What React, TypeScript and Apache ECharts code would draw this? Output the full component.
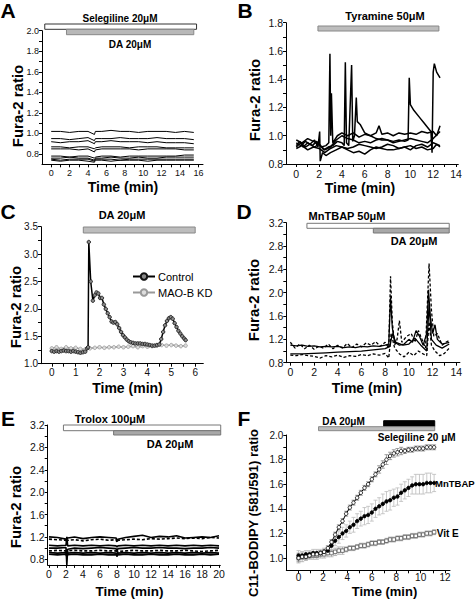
import React, { useEffect, useRef } from "react";
import * as echarts from "echarts";

const FONT = '"Liberation Sans", Arial, Helvetica, sans-serif';

// ---------- Panel A ----------
const timeA = [0, 1, 2, 3, 4, 4.7, 4.8, 5.5, 6.5, 7.5, 8.5, 9.5, 10.5, 11.5, 12.5, 13.5, 14.5, 15.5];
const tracesA = [
  [1.02, 1.02, 1.01, 1.02, 1.02, 0.99, 1.02, 1.02, 1.03, 1.02, 1.02, 1.01, 1.02, 1.02, 1.02, 1.01, 1.02, 1.01],
  [0.95, 0.95, 0.94, 0.95, 0.96, 0.93, 0.95, 0.95, 0.95, 0.96, 0.95, 0.95, 0.95, 0.96, 0.95, 0.95, 0.95, 0.94],
  [0.92, 0.91, 0.92, 0.92, 0.93, 0.9, 0.92, 0.92, 0.93, 0.92, 0.92, 0.92, 0.91, 0.92, 0.91, 0.91, 0.91, 0.9],
  [0.87, 0.87, 0.86, 0.87, 0.87, 0.85, 0.86, 0.87, 0.87, 0.87, 0.86, 0.87, 0.87, 0.87, 0.86, 0.86, 0.86, 0.86],
  [0.85, 0.85, 0.85, 0.84, 0.85, 0.82, 0.84, 0.85, 0.85, 0.85, 0.85, 0.84, 0.85, 0.85, 0.85, 0.85, 0.84, 0.84],
  [0.78, 0.78, 0.77, 0.78, 0.78, 0.76, 0.77, 0.78, 0.78, 0.77, 0.78, 0.78, 0.78, 0.78, 0.78, 0.78, 0.79, 0.79],
  [0.76, 0.76, 0.77, 0.76, 0.76, 0.74, 0.76, 0.76, 0.77, 0.76, 0.76, 0.77, 0.76, 0.76, 0.77, 0.77, 0.77, 0.77],
  [0.75, 0.74, 0.75, 0.75, 0.75, 0.73, 0.75, 0.75, 0.75, 0.74, 0.75, 0.75, 0.75, 0.75, 0.75, 0.75, 0.75, 0.75],
  [0.74, 0.73, 0.74, 0.74, 0.73, 0.72, 0.74, 0.74, 0.73, 0.74, 0.74, 0.74, 0.73, 0.74, 0.74, 0.74, 0.74, 0.74],
];
const barsA = [[-0.7, 15.8], [1.66, 15.5]];

// ---------- Panel B ----------
const tracesB = [
  [[0, 0.93], [0.3, 0.96], [0.6, 0.92], [1, 0.95], [1.4, 0.93], [1.8, 0.96], [2.2, 0.92], [2.6, 0.93], [2.85, 0.95], [2.95, 1.58], [3.02, 1.0], [3.08, 1.3], [3.2, 0.95], [3.6, 1.0], [4, 1.02], [4.5, 1.0], [5, 1.02], [5.5, 0.99], [6, 1.01], [6.5, 1.0], [7, 1.02], [7.25, 1.07], [7.5, 1.01], [8, 1.02], [8.5, 1.0], [9, 1.02], [9.5, 1.01], [10, 1.02], [10.5, 1.01], [11, 1.03], [11.5, 1.02], [12, 1.03], [12.3, 1.0], [12.6, 1.07]],
  [[0, 0.92], [0.4, 0.95], [0.8, 0.92], [1.2, 0.94], [1.6, 0.92], [2, 0.94], [2.4, 0.9], [2.8, 0.92], [3.2, 0.93], [3.6, 0.96], [4.0, 0.95], [4.2, 0.93], [4.3, 1.52], [4.4, 0.95], [4.6, 0.93], [4.85, 1.5], [4.95, 0.96], [5.1, 1.0], [5.26, 1.27], [5.35, 1.1], [5.6, 1.08], [6, 1.02], [6.5, 1.0], [7, 0.98], [7.5, 0.97], [8, 0.97], [8.5, 0.96], [9, 0.97], [9.5, 0.96], [9.8, 0.97], [9.9, 1.41], [10.0, 1.22], [10.3, 1.18], [10.8, 1.13], [11.2, 1.09], [11.6, 1.05], [11.8, 1.03], [11.9, 0.88], [12.0, 1.45], [12.1, 1.51], [12.3, 1.45], [12.6, 1.41]],
  [[0, 0.95], [0.4, 0.93], [0.8, 0.96], [1.2, 0.94], [1.6, 0.97], [1.9, 0.92], [2.05, 1.03], [2.1, 0.82], [2.3, 0.88], [2.6, 0.86], [3, 0.88], [3.5, 0.9], [4, 0.92], [4.5, 0.9], [5, 0.88], [5.5, 0.89], [6, 0.87], [6.5, 0.9], [7, 0.92], [7.5, 0.91], [8, 0.9], [8.5, 0.9], [9, 0.91], [9.5, 0.92], [10, 0.93], [10.5, 0.91], [11, 0.92], [11.5, 0.9], [12, 0.91], [12.3, 0.94], [12.6, 0.92]],
  [[0, 0.97], [0.5, 0.95], [1, 0.98], [1.5, 0.96], [2, 0.94], [2.5, 0.9], [3, 0.92], [3.5, 0.97], [4, 1.0], [4.5, 0.98], [5, 0.97], [5.5, 0.95], [6, 0.96], [6.5, 0.95], [7, 0.97], [7.5, 0.98], [8, 0.97], [8.5, 0.95], [9, 0.96], [9.5, 0.97], [10, 0.98], [10.5, 0.97], [11, 0.96], [11.5, 0.95], [12, 0.98], [12.6, 1.03]],
  [[0, 0.91], [0.5, 0.93], [1, 0.9], [1.5, 0.92], [2, 0.91], [2.5, 0.88], [3, 0.91], [3.5, 0.93], [4, 0.92], [4.5, 0.91], [5, 0.92], [5.5, 0.94], [6, 0.93], [6.5, 0.92], [7, 0.91], [7.5, 0.92], [8, 0.94], [8.5, 0.93], [9, 0.91], [9.5, 0.92], [10, 0.9], [10.5, 0.93], [11, 0.94], [11.5, 0.92], [12, 0.95], [12.6, 0.93]],
];
const barsB = [[1.9, 12.5]];

// ---------- Panel C ----------
const controlC = [[0, 1.23], [0.1, 1.22], [0.2, 1.23], [0.3, 1.22], [0.4, 1.23], [0.5, 1.24], [0.6, 1.23], [0.7, 1.23], [0.8, 1.22], [0.9, 1.23], [1.0, 1.22], [1.1, 1.21], [1.2, 1.2], [1.3, 1.21], [1.4, 1.22], [1.48, 1.28], [1.52, 1.3], [1.55, 3.22], [1.63, 2.5], [1.72, 2.15], [1.8, 2.25], [1.87, 2.3], [1.95, 2.28], [2.02, 2.2], [2.1, 2.2], [2.18, 2.08], [2.26, 2.0], [2.34, 1.92], [2.42, 1.85], [2.5, 1.77], [2.58, 1.75], [2.66, 1.76], [2.74, 1.72], [2.82, 1.65], [2.9, 1.58], [2.98, 1.52], [3.06, 1.48], [3.14, 1.44], [3.22, 1.41], [3.3, 1.39], [3.4, 1.38], [3.5, 1.37], [3.6, 1.37], [3.7, 1.37], [3.8, 1.36], [3.9, 1.36], [4.0, 1.35], [4.1, 1.34], [4.2, 1.33], [4.3, 1.33], [4.4, 1.34], [4.5, 1.35], [4.58, 1.45], [4.66, 1.58], [4.74, 1.7], [4.82, 1.78], [4.9, 1.83], [4.98, 1.85], [5.06, 1.82], [5.14, 1.74], [5.22, 1.67], [5.3, 1.6], [5.38, 1.55], [5.46, 1.5], [5.54, 1.46], [5.6, 1.43]];
const maobC = [[0, 1.28], [0.2, 1.3], [0.4, 1.27], [0.6, 1.3], [0.8, 1.28], [1.0, 1.29], [1.2, 1.27], [1.4, 1.26], [1.6, 1.28], [1.8, 1.29], [2.0, 1.3], [2.2, 1.29], [2.4, 1.3], [2.6, 1.3], [2.8, 1.31], [3.0, 1.3], [3.2, 1.31], [3.4, 1.32], [3.6, 1.3], [3.8, 1.32], [4.0, 1.31], [4.2, 1.32], [4.4, 1.33], [4.6, 1.34], [4.8, 1.33], [5.0, 1.34], [5.2, 1.33], [5.4, 1.32], [5.6, 1.33]];
const barsC = [[1.32, 6.0]];

// ---------- Panel D ----------
const tracesD = [
  [[0, 1.1], [0.5, 1.09], [1, 1.1], [1.5, 1.08], [2, 1.09], [2.5, 1.07], [3, 1.08], [3.5, 1.07], [4, 1.08], [4.5, 1.06], [5, 1.07], [5.5, 1.06], [6, 1.08], [6.5, 1.07], [7, 1.09], [7.5, 1.08], [8, 1.1], [8.3, 1.12], [8.45, 1.92], [8.6, 1.4], [8.8, 1.15], [9.2, 1.1], [9.6, 1.12], [10, 1.2], [10.3, 1.15], [10.6, 1.35], [10.9, 1.25], [11.2, 1.1], [11.5, 1.3], [11.65, 2.05], [11.8, 1.6], [12.0, 1.3], [12.2, 1.45], [12.4, 1.2], [12.8, 1.12], [13.4, 1.15]],
  [[0, 1.15], [0.4, 1.05], [0.8, 1.12], [1.2, 1.04], [1.6, 1.1], [2, 1.03], [2.4, 1.08], [2.8, 1.05], [3.2, 1.12], [3.6, 1.04], [4, 1.1], [4.4, 1.05], [4.8, 1.13], [5.2, 1.06], [5.6, 1.12], [6, 1.07], [6.4, 1.14], [6.8, 1.1], [7.2, 1.16], [7.6, 1.08], [8, 1.15], [8.3, 1.05], [8.45, 2.28], [8.6, 1.5], [8.8, 1.1], [9.0, 1.2], [9.2, 1.52], [9.4, 1.15], [9.8, 1.25], [10.2, 1.3], [10.5, 1.15], [10.8, 1.35], [11.1, 1.2], [11.4, 1.05], [11.7, 2.5], [11.9, 1.7], [12.1, 1.25], [12.4, 1.3], [12.8, 1.1], [13.1, 1.15], [13.4, 1.18]],
  [[0, 0.95], [1, 0.95], [2, 0.96], [3, 0.97], [4, 0.98], [5, 0.99], [6, 1.0], [7, 1.02], [8, 1.04], [8.4, 1.08], [8.6, 1.3], [8.9, 1.15], [9.5, 1.1], [10, 1.12], [10.5, 1.22], [11, 1.1], [11.5, 1.0], [11.7, 1.8], [11.9, 1.2], [12.3, 1.1], [12.8, 1.05], [13.4, 1.12]],
  [[0, 0.93], [0.5, 0.92], [1, 0.94], [1.5, 0.92], [2, 0.91], [2.5, 0.88], [3, 0.92], [3.5, 0.9], [4, 0.93], [4.5, 0.89], [5, 0.92], [5.5, 0.91], [6, 0.94], [6.5, 0.92], [7, 0.95], [7.5, 0.93], [8, 0.96], [8.3, 0.88], [8.5, 1.3], [8.8, 1.05], [9.2, 0.95], [9.6, 0.9], [10, 0.98], [10.4, 0.92], [10.8, 1.0], [11.2, 0.95], [11.5, 0.92], [11.7, 1.5], [11.9, 1.1], [12.2, 1.0], [12.6, 0.92], [13, 0.96], [13.4, 1.05]],
];
const dashedD = [false, true, false, true];
const barsD = [[1.4, 13.4], [7.0, 13.4]];

// ---------- Panel E ----------
const timeE = [0, 1, 2, 2.1, 2.2, 3, 4, 5, 6, 7, 7.9, 8, 8.1, 9, 10, 11, 12, 13, 14, 15, 16, 17, 18, 19, 20];
const tracesE = [
  [1.2, 1.19, 1.16, 1.17, 1.18, 1.2, 1.17, 1.19, 1.2, 1.19, 1.18, 1.12, 1.16, 1.19, 1.21, 1.23, 1.19, 1.21, 1.2, 1.22, 1.18, 1.19, 1.2, 1.19, 1.22],
  [1.16, 1.15, 1.14, 1.1, 1.14, 1.15, 1.13, 1.15, 1.16, 1.14, 1.15, 1.1, 1.14, 1.15, 1.16, 1.15, 1.17, 1.16, 1.17, 1.18, 1.17, 1.18, 1.17, 1.19, 1.18],
  [1.05, 1.04, 1.05, 1.2, 1.04, 1.05, 1.04, 1.05, 1.04, 1.05, 1.04, 1.02, 1.04, 1.05, 1.04, 1.05, 1.04, 1.05, 1.04, 1.05, 1.04, 1.05, 1.04, 1.05, 1.04],
  [1.0, 1.0, 1.01, 0.7, 0.98, 1.0, 0.99, 1.0, 1.01, 1.0, 0.99, 0.93, 0.99, 1.0, 1.01, 1.0, 1.0, 1.01, 1.0, 1.0, 0.99, 1.0, 1.0, 1.01, 1.0],
  [0.95, 0.96, 0.95, 0.85, 0.95, 0.96, 0.95, 0.95, 0.96, 0.95, 0.95, 0.85, 0.94, 0.95, 0.96, 0.95, 0.95, 0.96, 0.95, 0.95, 0.96, 0.95, 0.94, 0.95, 0.96],
  [0.92, 0.91, 0.92, 0.88, 0.91, 0.92, 0.91, 0.92, 0.91, 0.92, 0.91, 0.88, 0.91, 0.92, 0.91, 0.92, 0.91, 0.92, 0.91, 0.92, 0.91, 0.92, 0.91, 0.92, 0.91],
  [0.89, 0.88, 0.89, 0.85, 0.88, 0.89, 0.88, 0.88, 0.89, 0.88, 0.88, 0.86, 0.88, 0.89, 0.88, 0.88, 0.89, 0.88, 0.88, 0.89, 0.88, 0.88, 0.89, 0.88, 0.89],
];
const dashedE = [false, true, false, false, true, false, false];
const barsE = [[1.7, 20.2], [7.6, 20.2]];

// ---------- Panel F ----------
const timeF = [0, 0.3, 0.6, 0.9, 1.2, 1.5, 1.8, 2.1, 2.4, 2.7, 3.0, 3.3, 3.6, 3.9, 4.2, 4.5, 4.8, 5.1, 5.4, 5.7, 6.0, 6.3, 6.6, 6.9, 7.2, 7.5, 7.8, 8.1, 8.4, 8.7, 9.0, 9.3, 9.6, 9.9, 10.2, 10.5, 10.8, 11.1];
const selegilineF = [1.0, 1.01, 1.01, 1.02, 1.03, 1.03, 1.04, 1.05, 1.08, 1.13, 1.19, 1.25, 1.3, 1.36, 1.41, 1.45, 1.49, 1.53, 1.57, 1.6, 1.64, 1.68, 1.72, 1.76, 1.8, 1.83, 1.85, 1.86, 1.87, 1.87, 1.88, 1.88, 1.89, 1.89, 1.89, 1.9, 1.9, 1.9];
const selegilineSdF = [0.03, 0.02, 0.02, 0.02, 0.02, 0.02, 0.02, 0.02, 0.02, 0.02, 0.02, 0.02, 0.02, 0.02, 0.02, 0.02, 0.02, 0.02, 0.02, 0.02, 0.02, 0.02, 0.03, 0.03, 0.04, 0.03, 0.03, 0.03, 0.03, 0.02, 0.02, 0.02, 0.02, 0.02, 0.02, 0.02, 0.02, 0.02];
const mntbapF = [1.02, 1.02, 1.03, 1.03, 1.04, 1.04, 1.04, 1.05, 1.06, 1.1, 1.14, 1.17, 1.2, 1.22, 1.25, 1.27, 1.3, 1.32, 1.34, 1.35, 1.37, 1.4, 1.42, 1.44, 1.46, 1.47, 1.49, 1.5, 1.53, 1.55, 1.57, 1.59, 1.6, 1.6, 1.6, 1.61, 1.61, 1.61];
const mntbapSdF = [0.04, 0.03, 0.03, 0.03, 0.03, 0.03, 0.03, 0.03, 0.03, 0.04, 0.04, 0.05, 0.05, 0.05, 0.05, 0.06, 0.06, 0.06, 0.07, 0.07, 0.07, 0.07, 0.07, 0.08, 0.08, 0.08, 0.07, 0.07, 0.07, 0.07, 0.07, 0.07, 0.08, 0.08, 0.08, 0.08, 0.08, 0.07];
const vitEF = [1.0, 1.01, 1.01, 1.02, 1.02, 1.02, 1.03, 1.03, 1.04, 1.04, 1.05, 1.06, 1.06, 1.07, 1.08, 1.08, 1.09, 1.1, 1.1, 1.11, 1.12, 1.12, 1.13, 1.13, 1.14, 1.15, 1.15, 1.16, 1.16, 1.17, 1.17, 1.18, 1.18, 1.19, 1.19, 1.2, 1.2, 1.21];
const vitESdF = [0.04, 0.04, 0.03, 0.03, 0.03, 0.03, 0.03, 0.03, 0.03, 0.03, 0.03, 0.03, 0.03, 0.02, 0.02, 0.02, 0.02, 0.02, 0.02, 0.02, 0.02, 0.02, 0.02, 0.02, 0.02, 0.02, 0.02, 0.02, 0.02, 0.02, 0.02, 0.02, 0.02, 0.02, 0.02, 0.02, 0.02, 0.02];
const barsF = [[1.64, 11.15], [6.97, 11.15]];

// ---------- Axis ticks / labels ----------
const xTicksA = [0, 1, 2, 3, 4, 5, 6, 7, 8, 9, 10, 11, 12, 13, 14, 15, 16];
const xLabelsA = [0, 2, 4, 6, 8, 10, 12, 14, 16];
const yTicksA = [0.8, 0.9, 1.0, 1.1, 1.2, 1.3, 1.4, 1.5, 1.6, 1.7, 1.8, 1.9, 2.0];
const yLabelsA = [0.8, 1.0, 1.2, 1.4, 1.6, 1.8, 2.0];
const xTicksB = [0, 1, 2, 3, 4, 5, 6, 7, 8, 9, 10, 11, 12, 13, 14];
const xLabelsB = [0, 2, 4, 6, 8, 10, 12, 14];
const yTicksB = [0.8, 0.9, 1.0, 1.1, 1.2, 1.3, 1.4, 1.5, 1.6, 1.7, 1.8];
const yLabelsB = [0.8, 1.0, 1.2, 1.4, 1.6, 1.8];
const xTicksC = [0, 0.5, 1, 1.5, 2, 2.5, 3, 3.5, 4, 4.5, 5, 5.5, 6];
const xLabelsC = [0, 1, 2, 3, 4, 5, 6];
const yTicksC = [1.0, 1.25, 1.5, 1.75, 2.0, 2.25, 2.5, 2.75, 3.0, 3.25, 3.5];
const yLabelsC = [1.0, 1.5, 2.0, 2.5, 3.0, 3.5];
const xTicksD = [0, 1, 2, 3, 4, 5, 6, 7, 8, 9, 10, 11, 12, 13, 14];
const xLabelsD = [0, 2, 4, 6, 8, 10, 12, 14];
const yTicksD = [0.8, 1.0, 1.2, 1.4, 1.6, 1.8, 2.0, 2.2, 2.4, 2.6, 2.8, 3.0, 3.2];
const yLabelsD = [0.8, 1.2, 1.6, 2.0, 2.4, 2.8, 3.2];
const xTicksE = [0, 1, 2, 3, 4, 5, 6, 7, 8, 9, 10, 11, 12, 13, 14, 15, 16, 17, 18, 19, 20];
const xLabelsE = [0, 2, 4, 6, 8, 10, 12, 14, 16, 18, 20];
const yTicksE = [0.8, 1.0, 1.2, 1.4, 1.6, 1.8, 2.0, 2.2, 2.4, 2.6, 2.8, 3.0, 3.2];
const yLabelsE = [0.8, 1.2, 1.6, 2.0, 2.4, 2.8, 3.2];
const xTicksF = [0, 1, 2, 3, 4, 5, 6, 7, 8, 9, 10, 11, 12];
const xLabelsF = [0, 2, 4, 6, 8, 10, 12];
const yTicksF = [1.0, 1.1, 1.2, 1.3, 1.4, 1.5, 1.6, 1.7, 1.8, 1.9, 2.0];
const yLabelsF = [1.0, 1.2, 1.4, 1.6, 1.8, 2.0];

// grid layout (pixels), axis ranges, tick label size
const panels = [
  { left: 42, top: 30.7, width: 161, height: 133.6, x: [-1, 16.5], y: [0.7, 2.0], xt: xTicksA, xl: xLabelsA, yt: yTicksA, yl: yLabelsA, fs: 9, xm: 4 },
  { left: 286, top: 22.7, width: 172.3, height: 141.3, x: [-0.9, 14.2], y: [0.8, 1.8], xt: xTicksB, xl: xLabelsB, yt: yTicksB, yl: yLabelsB, fs: 10.5, xm: 4 },
  { left: 41, top: 226.7, width: 162.3, height: 137, x: [-0.45, 6.34], y: [1.0, 3.5], xt: xTicksC, xl: xLabelsC, yt: yTicksC, yl: yLabelsC, fs: 10, xm: 4 },
  { left: 286.3, top: 222.7, width: 173.6, height: 140, x: [-0.34, 14.3], y: [0.8, 3.2], xt: xTicksD, xl: xLabelsD, yt: yTicksD, yl: yLabelsD, fs: 10.5, xm: 4 },
  { left: 47.7, top: 425, width: 172.6, height: 139.9, x: [-0.15, 20.15], y: [0.7, 3.2], xt: xTicksE, xl: xLabelsE, yt: yTicksE, yl: yLabelsE, fs: 10.5, xm: 4 },
  { left: 286.3, top: 435, width: 163.7, height: 135.3, x: [-1, 12.4], y: [0.9, 2.0], xt: xTicksF, xl: xLabelsF, yt: yTicksF, yl: yLabelsF, fs: 10, xm: 2 },
];

function buildOption() {
  const grid = panels.map((p) => ({ left: p.left, top: p.top, width: p.width, height: p.height, containLabel: false }));
  const axisCommon = {
    axisLine: { show: true, onZero: false, lineStyle: { color: "#000", width: 1 } },
    splitLine: { show: false },
    axisTick: { show: true, inside: false, length: 3, lineStyle: { color: "#000" } },
  };
  const xAxis = panels.map((p, i) => ({
    type: "value",
    gridIndex: i,
    min: p.x[0],
    max: p.x[1],
    ...axisCommon,
    axisTick: { ...axisCommon.axisTick, customValues: p.xt },
    axisLabel: { customValues: p.xl, color: "#111", fontSize: p.fs, fontFamily: FONT, margin: p.xm, formatter: (v: number) => String(Math.round(v)) },
  }));
  const yAxis = panels.map((p, i) => ({
    type: "value",
    gridIndex: i,
    min: p.y[0],
    max: p.y[1],
    ...axisCommon,
    axisTick: { ...axisCommon.axisTick, customValues: p.yt },
    axisLabel: { customValues: p.yl, color: "#111", fontSize: p.fs, fontFamily: FONT, margin: 3, formatter: (v: number) => v.toFixed(1) },
  }));

  const series: any[] = [];
  const line = (idx: number, data: any[], opts: any = {}) => ({
    type: "line",
    xAxisIndex: idx,
    yAxisIndex: idx,
    data,
    symbol: "none",
    silent: true,
    lineStyle: { color: "#000", width: 1 },
    ...opts,
  });

  const bar = (idx: number, range: number[], y0: number, y1: number, fill: string, stroke: string) => {
    const yTop = panels[idx].y[1];
    return {
      type: "custom",
      xAxisIndex: idx,
      yAxisIndex: idx,
      silent: true,
      clip: false,
      z: 10,
      data: [range],
      renderItem: (_params: any, api: any) => {
        const s = api.coord([api.value(0), yTop]);
        const e = api.coord([api.value(1), yTop]);
        return {
          type: "rect",
          shape: { x: s[0], y: s[1] + y0, width: e[0] - s[0], height: y1 - y0 },
          style: { fill, stroke, lineWidth: 1 },
        };
      },
    };
  };

  const errorBars = (idx: number, t: number[], mean: number[], sd: number[], color: string) => ({
    type: "custom",
    xAxisIndex: idx,
    yAxisIndex: idx,
    silent: true,
    z: 1,
    data: t.map((x, i) => [x, mean[i] - sd[i], mean[i] + sd[i]]),
    encode: { x: 0, y: [1, 2] },
    renderItem: (_params: any, api: any) => {
      const lo = api.coord([api.value(0), api.value(1)]);
      const hi = api.coord([api.value(0), api.value(2)]);
      const w = 2;
      const st = { stroke: color, lineWidth: 0.8 };
      return {
        type: "group",
        children: [
          { type: "line", shape: { x1: lo[0], y1: lo[1], x2: hi[0], y2: hi[1] }, style: st },
          { type: "line", shape: { x1: lo[0] - w, y1: lo[1], x2: lo[0] + w, y2: lo[1] }, style: st },
          { type: "line", shape: { x1: hi[0] - w, y1: hi[1], x2: hi[0] + w, y2: hi[1] }, style: st },
        ],
      };
    },
  });

  // A
  tracesA.forEach((vals) => series.push(line(0, timeA.map((t, i) => [t, vals[i]]), { lineStyle: { color: "#000", width: 1 } })));
  series.push(bar(0, barsA[0], -6.7, -1.4, "#ffffff", "#333"));
  series.push(bar(0, barsA[1], -1.4, 4.0, "#b8b8b8", "#888"));

  // B
  tracesB.forEach((d) => series.push(line(1, d, { lineStyle: { color: "#000", width: 1.5 } })));
  series.push(bar(1, barsB[0], 3.3, 8.3, "#bdbdbd", "#888"));

  // C
  series.push(line(2, maobC, {
    name: "MAO-B KD",
    symbol: "circle",
    symbolSize: 3.5,
    showSymbol: true,
    lineStyle: { color: "#999", width: 1.5 },
    itemStyle: { color: "#ddd", borderColor: "#999", borderWidth: 0.8 },
  }));
  series.push(line(2, controlC, {
    name: "Control",
    symbol: "circle",
    symbolSize: 3.5,
    showSymbol: true,
    lineStyle: { color: "#000", width: 1.5 },
    itemStyle: { color: "#888", borderColor: "#111", borderWidth: 0.8 },
  }));
  series.push(bar(2, barsC[0], 0.3, 6.3, "#bdbdbd", "#888"));

  // D
  tracesD.forEach((d, i) => series.push(line(3, d, { lineStyle: { color: "#000", width: 1.3, type: dashedD[i] ? [3, 2] : "solid" } })));
  series.push(bar(3, barsD[0], 0.6, 5.6, "#ffffff", "#777"));
  series.push(bar(3, barsD[1], 5.6, 10.3, "#a8a8a8", "#777"));

  // E
  tracesE.forEach((vals, k) => series.push(line(4, timeE.map((t, i) => [t, vals[i]]), { lineStyle: { color: "#000", width: 1.6, type: dashedE[k] ? [3, 2] : "solid" } })));
  series.push(bar(4, barsE[0], 0, 5.7, "#ffffff", "#777"));
  series.push(bar(4, barsE[1], 5.7, 10, "#a8a8a8", "#777"));

  // F
  series.push(errorBars(5, timeF, vitEF, vitESdF, "#aaa"));
  series.push(errorBars(5, timeF, mntbapF, mntbapSdF, "#bbb"));
  series.push(errorBars(5, timeF, selegilineF, selegilineSdF, "#888"));
  series.push(line(5, timeF.map((t, i) => [t, vitEF[i]]), {
    symbol: "rect", symbolSize: 3.5, showSymbol: true,
    lineStyle: { color: "#666", width: 1 },
    itemStyle: { color: "#fff", borderColor: "#555", borderWidth: 0.8 },
  }));
  series.push(line(5, timeF.map((t, i) => [t, mntbapF[i]]), {
    symbol: "circle", symbolSize: 3.5, showSymbol: true,
    lineStyle: { color: "#000", width: 1 },
    itemStyle: { color: "#000", borderColor: "#000", borderWidth: 0.8 },
  }));
  series.push(line(5, timeF.map((t, i) => [t, selegilineF[i]]), {
    symbol: "circle", symbolSize: 3.5, showSymbol: true,
    lineStyle: { color: "#000", width: 1 },
    itemStyle: { color: "#fff", borderColor: "#000", borderWidth: 0.8 },
  }));
  series.push(bar(5, barsF[1], -14.3, -8.3, "#000", "#000"));
  series.push(bar(5, barsF[0], -8.3, -4.3, "#bdbdbd", "#888"));

  const txt = (text: string, x: number, y: number, size: number, weight: string = "bold", rotation = 0, align = "center") => ({
    type: "text",
    x,
    y,
    rotation,
    silent: true,
    z: 100,
    style: {
      text,
      fill: "#000",
      fontSize: size,
      fontWeight: weight,
      fontFamily: FONT,
      align,
      verticalAlign: "middle",
      textAlign: align,
      textVerticalAlign: "middle",
    },
  });
  const R = Math.PI / 2;
  const graphic = [
    // panel letters
    txt("A", 8, 10, 21, "bold"),
    txt("B", 245, 10, 21, "bold"),
    txt("C", 8, 211, 21, "bold"),
    txt("D", 244, 211, 21, "bold"),
    txt("E", 8, 418, 21, "bold"),
    txt("F", 244, 418, 21, "bold"),
    // annotations
    txt("Selegiline 20μM", 120, 18, 10),
    txt("DA 20μM", 130, 44, 10),
    txt("Tyramine 50μM", 385, 16, 11),
    txt("DA 20μM", 122, 215, 11),
    txt("MnTBAP 50μM", 347, 216, 11),
    txt("DA 20μM", 414, 241, 11),
    txt("Trolox 100μM", 110, 419, 11),
    txt("DA 20μM", 170, 444, 11),
    txt("DA 20μM", 343.5, 421.7, 10),
    txt("Selegiline 20 μM", 416.7, 437.7, 10),
    txt("MnTBAP", 435, 483.3, 9.5, "bold", 0, "left"),
    txt("Vit E", 436.7, 533.3, 10, "bold", 0, "left"),
    // axis titles
    txt("Fura-2 ratio", 17, 106, 15, "bold", R),
    txt("Time (min)", 123, 187, 14),
    txt("Fura-2 ratio", 254, 100, 15, "bold", R),
    txt("Time (min)", 360, 188, 14),
    txt("Fura-2 ratio", 15, 307, 15, "bold", R),
    txt("Time (min)", 127.5, 388, 14),
    txt("Fura-2 ratio", 253, 300, 15, "bold", R),
    txt("Time (min)", 367, 388, 14),
    txt("Fura-2 ratio", 15, 507, 15, "bold", R),
    txt("Time (min)", 129.5, 591, 13.5),
    txt("C11-BODIPY (581/591) ratio", 253.7, 513, 13, "bold", R),
    txt("Time (min)", 384.5, 591.5, 13),
  ];

  return {
    animation: false,
    backgroundColor: "#fff",
    grid,
    xAxis,
    yAxis,
    series,
    graphic,
    legend: {
      show: true,
      data: ["Control", "MAO-B KD"],
      orient: "vertical",
      left: 127,
      top: 266,
      itemWidth: 22,
      itemHeight: 8,
      itemGap: 5,
      selectedMode: false,
      textStyle: { fontSize: 11, fontFamily: FONT, color: "#000", padding: [0, 0, 0, -2] },
    },
  };
}

export default function App() {
  const ref = useRef<HTMLDivElement>(null);
  useEffect(() => {
    if (!ref.current) return;
    const chart = echarts.init(ref.current, null, { renderer: "svg" });
    chart.setOption(buildOption() as any);
    return () => chart.dispose();
  }, []);
  return (
    <div
      ref={ref}
      style={{ position: "absolute", left: 0, top: 0, width: 475, height: 599, background: "#fff" }}
    />
  );
}
